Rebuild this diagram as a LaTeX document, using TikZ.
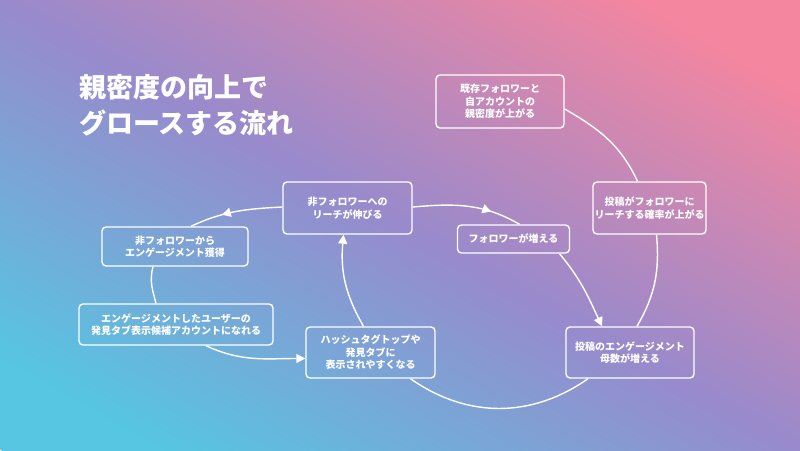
\documentclass[tikz,border=0pt]{standalone}
\usepackage{fontspec}
\setmainfont{Noto Sans CJK JP}
\usetikzlibrary{arrows.meta}
\usetikzlibrary{decorations.markings}
\tikzset{>={Triangle[length=9pt,width=9pt]}}

\definecolor{bgcyan}{RGB}{86,198,226}
\definecolor{bgpurple}{RGB}{152,138,204}
\definecolor{bgpink}{RGB}{244,134,160}
\pgfdeclarehorizontalshading{bgflow}{100bp}{color(0bp)=(bgcyan); color(30bp)=(bgcyan);
	color(50bp)=(bgpurple); color(70bp)=(bgpink); color(100bp)=(bgpink)}

\tikzset{
	stepbox/.style={draw=white, line width=1.4pt, rounded corners=4pt, text=white,
		align=center, inner sep=0pt, font=\bfseries\fontsize{10}{12.5}\selectfont},
	flow/.style={draw=white, line width=1.4pt},
	midarrow/.style={postaction={decorate}, decoration={markings,
		mark=at position #1 with {\arrow{>}}}}
}

\begin{document}
\begin{tikzpicture}[x=1pt, y=1pt]
		% background
		\useasboundingbox (0,0) rectangle (800,-450);
		\begin{scope}
			\clip (0,0) rectangle (800,-450);
			\shade[transform canvas={rotate around={60.6:(400,-225)}}, shading=bgflow]
				(8,-725) rectangle (792,275);
		\end{scope}

		\node[anchor=north west, inner sep=0pt, text=white, align=left,
			font=\bfseries\fontsize{27}{36}\selectfont] (title) at (79,-74)
			{親密度の向上で\\グロースする流れ};

		% steps
		\node[stepbox, minimum width=128pt, minimum height=53pt] (b1) at (500,-101.5)
			{既存フォロワーと\\自アカウントの\\親密度が上がる};
		\node[stepbox, minimum width=113pt, minimum height=52pt] (b2) at (649.5,-208)
			{投稿がフォロワーに\\リーチする確率が上がる};
		\node[stepbox, minimum width=128pt, minimum height=51pt] (b3) at (630,-352.5)
			{投稿のエンゲージメント\\母数が増える};
		\node[stepbox, minimum width=129pt, minimum height=51pt] (b4) at (370.5,-352.5)
			{ハッシュタグトップや\\発見タブに\\表示されやすくなる};
		\node[stepbox, minimum width=194pt, minimum height=41pt] (b5) at (176,-324.5)
			{エンゲージメントしたユーザーの\\発見タブ表示候補アカウントになれる};
		\node[stepbox, minimum width=146pt, minimum height=39pt] (b6) at (175,-246.5)
			{非フォロワーから\\エンゲージメント獲得};
		\node[stepbox, minimum width=129pt, minimum height=52pt] (b7) at (347.5,-208)
			{非フォロワーへの\\リーチが伸びる};
		\node[stepbox, minimum width=112pt, minimum height=28pt] (b8) at (513.5,-239)
			{フォロワーが増える};

		% outer cycle
		\draw[flow] ([yshift=-7.5pt]b1.east) to[out=-30, in=115] ([xshift=-12pt]b2.north);
		\draw[flow] ([xshift=7pt]b2.south) to[out=-85, in=60] ([xshift=7pt]b3.north);
		\draw[flow] ([xshift=-42pt]b3.south) to[out=-145, in=-35] ([xshift=40pt]b4.south);
		\draw[flow, ->] ([xshift=-7pt]b4.north) to[out=120, in=-95] ([xshift=-4pt]b7.south);

		% inner branches
		\draw[flow, midarrow=0.72] ([yshift=1pt]b7.east) to[out=5, in=150] ([xshift=6pt]b8.north);
		\draw[flow, ->] ([xshift=46pt]b8.south) to[out=-50, in=115] ([xshift=-28pt]b3.north);
		\draw[flow, midarrow=0.65] ([yshift=1pt]b7.west) to[out=183, in=25] ([xshift=16pt]b6.north);
		\draw[flow] ([xshift=-22pt]b6.south) to[out=-105, in=105] ([xshift=-20pt]b5.north);
		\draw[flow, ->] ([xshift=30pt]b5.south) to[out=-25, in=180] ([yshift=-6pt]b4.west);
\end{tikzpicture}
\end{document}
